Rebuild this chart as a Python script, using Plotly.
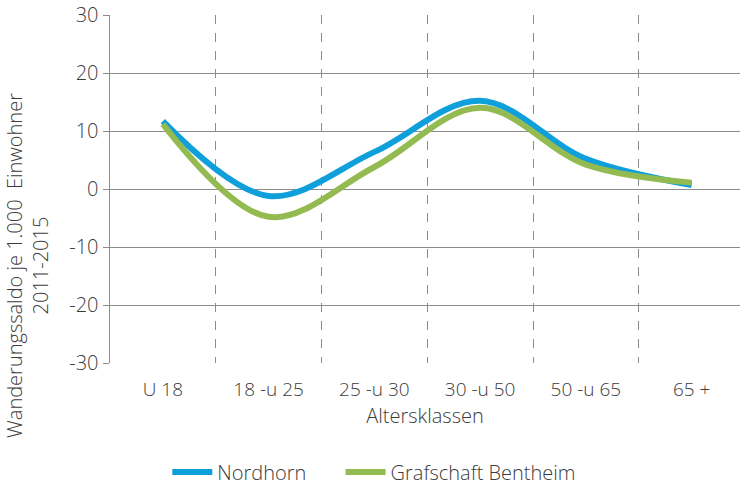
import plotly.graph_objects as go

categories = ["U 18", "18 -u 25", "25 -u 30", "30 -u 50", "50 -u 65", "65 +"]
nordhorn = [11.7, -1.2, 6.4, 15.2, 5.2, 0.7]
grafschaft = [11.2, -4.8, 3.8, 14.0, 4.2, 1.1]
y_ticks = [-30, -20, -10, 0, 10, 20, 30]
y_labels = ["-30", "-20", "-10", "0", "10", "20", "30"]
y_title = "Wanderungssaldo je 1.000  Einwohner<br>2011-2015"
x_title = "Altersklassen"

FONT = "Open Sans"
TXT = "#3c3c3c"
GRID = "#8c8c8c"

x = list(range(len(categories)))

fig = go.Figure()
fig.add_trace(go.Scatter(x=x, y=nordhorn, name="Nordhorn", mode="lines", legend="legend",
                         line=dict(color="#0f9fda", width=6, shape="spline", smoothing=1.0)))
fig.add_trace(go.Scatter(x=x, y=grafschaft, name="Grafschaft Bentheim", mode="lines", legend="legend2",
                         line=dict(color="#93bb52", width=6, shape="spline", smoothing=1.0)))

fig.add_annotation(text=y_title, xref="paper", yref="paper", x=-0.131, y=0.28,
                   xanchor="center", yanchor="middle", textangle=-90, showarrow=False,
                   font=dict(size=20, color=TXT, family=FONT, weight=300))

legend_common = dict(orientation="h", y=-0.313, yanchor="middle", xanchor="left",
                     font=dict(size=20, color=TXT, family=FONT, weight=300),
                     itemwidth=40, bgcolor="rgba(0,0,0,0)")

fig.update_layout(
    width=740, height=486,
    margin=dict(l=110, r=0, t=15, b=123, autoexpand=False),
    paper_bgcolor="white", plot_bgcolor="white",
    font=dict(family=FONT, size=19, color=TXT, weight=300),
    showlegend=True,
    legend=dict(x=0.091, **legend_common),
    legend2=dict(x=0.366, **legend_common),
    xaxis=dict(
        range=[-0.5, 5.457],
        tickmode="array", tickvals=x, ticktext=categories,
        showgrid=False, zeroline=False, showline=False, ticks="",
        ticklabelstandoff=13,
        tickfont=dict(size=19, color=TXT),
        minor=dict(tickvals=[0.5, 1.5, 2.5, 3.5, 4.5], showgrid=True,
                   gridcolor="#8c8c8c", griddash="dash", gridwidth=1, ticks=""),
        title=dict(text=x_title, font=dict(size=20, color=TXT), standoff=5),
        automargin=False,
        fixedrange=True,
    ),
    yaxis=dict(
        range=[-30, 30], tickmode="array", tickvals=y_ticks, ticktext=y_labels,
        showgrid=True, gridcolor=GRID, gridwidth=1,
        zeroline=False, showline=True, linecolor=GRID, linewidth=1.5,
        ticks="outside", ticklen=6, tickcolor=GRID, tickwidth=1,
        tickfont=dict(size=20, color=TXT),
        ticklabeloverflow="allow",
        automargin=False,
        fixedrange=True,
    ),
)

fig.write_html("out.html",
               config={"displayModeBar": False, "staticPlot": True},
               post_script="document.body.style.margin='0';document.body.style.overflow='hidden';")
